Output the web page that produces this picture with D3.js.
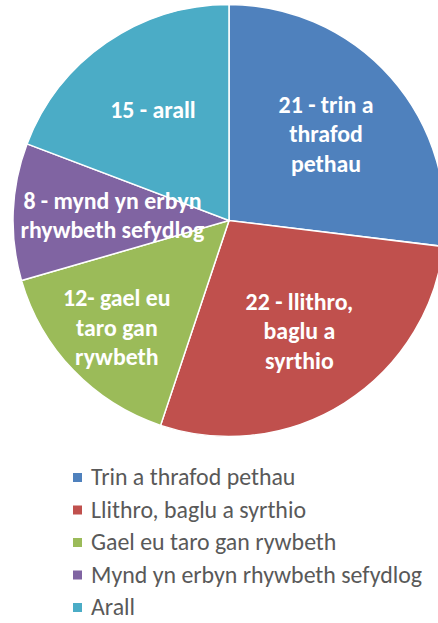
<!DOCTYPE html>
<html lang="en">
<head>
<meta charset="UTF-8">
<script src="https://cdn.jsdelivr.net/npm/d3@7/dist/d3.min.js"></script>
<style>
    body { margin: 0; background: #fff; overflow: hidden; }
    .lbl { fill: #fff; font-weight: bold; font-family: Carlito, "Open Sans", sans-serif; }
    .leg { fill: #595959; font-family: Carlito, "Open Sans", sans-serif; }
</style>
</head>
<body>
<script>
var categories = ["Trin a thrafod pethau", "Llithro, baglu a syrthio", "Gael eu taro gan rywbeth",
                  "Mynd yn erbyn rhywbeth sefydlog", "Arall"];
var counts = [21, 22, 12, 8, 15];
var sliceLabels = [
    ["21 - trin a", "thrafod", "pethau"],
    ["22 - llithro,", "baglu a", "syrthio"],
    ["12- gael eu", "taro gan", "rywbeth"],
    ["8 - mynd yn erbyn", "rhywbeth sefydlog"],
    ["15 - arall"]
];
var colours = ["#4f81bd", "#c0504d", "#9bbb59", "#8064a2", "#4bacc6"];

var W = 438, H = 623;
var cx = 229, cy = 220.5, R = 216;
// how far out each label sits, as a share of the radius (Excel "best fit" look)
var labelPos = [0.6, 0.61, 0.72, 0.54, 0.62];

var svg = d3.select("body").append("svg")
    .attr("width", W)
    .attr("height", H);

var pie = d3.pie().sort(null).value(function (d) { return d; });
var arcs = pie(counts);
var arc = d3.arc().innerRadius(0).outerRadius(R);

var g = svg.append("g").attr("transform", "translate(" + cx + "," + cy + ")");

g.selectAll("path")
    .data(arcs)
    .enter()
    .append("path")
    .attr("d", arc)
    .attr("fill", function (d, i) { return colours[i]; })
    .attr("stroke", "#fff")
    .attr("stroke-width", 1.5);

var lineH = 29.5;
var lab = g.selectAll("text.lbl")
    .data(arcs)
    .enter()
    .append("text")
    .attr("class", "lbl")
    .attr("text-anchor", "middle")
    .style("font-size", "22px")
    .attr("transform", function (d, i) {
        var a = (d.startAngle + d.endAngle) / 2;
        var r = R * labelPos[i];
        return "translate(" + (Math.sin(a) * r) + "," + (-Math.cos(a) * r) + ")";
    });

lab.each(function (d, i) {
    var lines = sliceLabels[i];
    var t = d3.select(this);
    lines.forEach(function (s, k) {
        t.append("tspan")
            .attr("x", 0)
            .attr("y", (k - (lines.length - 1) / 2) * lineH + 7.5)
            .text(s);
    });
});

// size the label font so "rhywbeth sefydlog" is about 184px wide like the original
var probe = lab.filter(function (d, i) { return i === 3; }).select("tspan:nth-child(2)").node();
var lw = probe.getComputedTextLength();
lab.style("font-size", (22 * 184 / lw).toFixed(2) + "px");

var legend = svg.append("g").attr("transform", "translate(73,0)");
var legY = d3.scalePoint().domain(categories).range([485, 615]);

var item = legend.selectAll("g")
    .data(categories)
    .enter()
    .append("g")
    .attr("transform", function (d) { return "translate(0," + legY(d) + ")"; });

item.append("rect")
    .attr("x", 0)
    .attr("y", -12)
    .attr("width", 9)
    .attr("height", 9)
    .attr("fill", function (d, i) { return colours[i]; });

var legText = item.append("text")
    .attr("class", "leg")
    .attr("x", 18)
    .attr("y", 0)
    .style("font-size", "20px")
    .text(function (d) { return d; });

var longest = d3.max(legText.nodes(), function (n) { return n.getComputedTextLength(); });
legText.style("font-size", (20 * 331 / longest).toFixed(2) + "px");
</script>
</body>
</html>
